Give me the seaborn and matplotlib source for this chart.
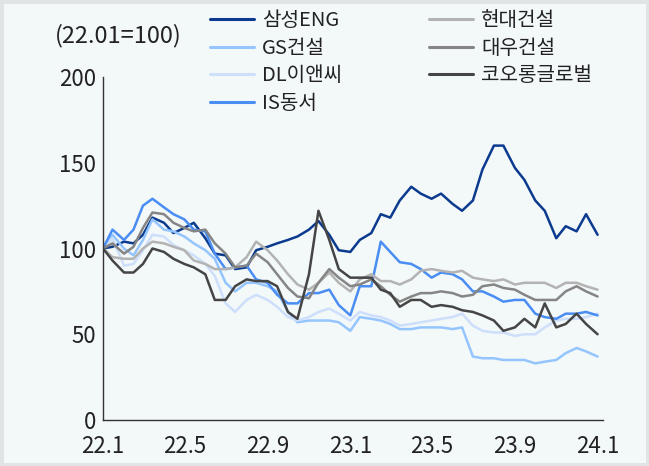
import numpy as np
import pandas as pd
import seaborn as sns
import matplotlib.pyplot as plt
from matplotlib.lines import Line2D

# 반월 간격 (1일, 15일)
dates = pd.date_range('2022-01-01', periods=49, freq='SMS')

samsung = [100, 101, 104, 103, 108, 118, 115, 109, 112, 115, 106, 97, 96, 88, 89, 99, 101, 103, 105, 107,
           111, 116, 108, 99, 98, 105, 109, 120, 118, 128, 136, 132, 129, 132, 126, 122, 128, 146, 160, 160,
           147, 140, 128, 122, 106, 113, 110, 120, 108]
gs = [100, 108, 100, 96, 105, 117, 111, 110, 107, 103, 99, 94, 80, 75, 80, 80, 78, 75, 63, 57,
      58, 58, 58, 57, 52, 60, 59, 58, 56, 53, 53, 54, 54, 54, 53, 54, 37, 36, 36, 35,
      35, 35, 33, 34, 35, 39, 42, 40, 37]
dl = [100, 106, 90, 91, 99, 108, 107, 102, 99, 96, 91, 84, 68, 63, 70, 73, 70, 66, 60, 58,
      60, 63, 65, 62, 58, 63, 61, 60, 58, 55, 56, 57, 58, 59, 60, 62, 55, 52, 51, 51,
      49, 50, 50, 54, 58, 59, 59, 60, 62]
is_dongseo = [100, 111, 105, 111, 125, 129, 124, 120, 117, 111, 110, 97, 88, 89, 90, 82, 80, 73, 68, 68,
              74, 74, 76, 67, 61, 78, 78, 104, 98, 92, 91, 88, 83, 86, 85, 82, 75, 75, 72, 69,
              70, 70, 62, 60, 59, 62, 62, 63, 61]
hyundai = [100, 95, 94, 94, 100, 104, 103, 101, 99, 93, 91, 88, 88, 89, 95, 104, 99, 93, 85, 79,
           76, 80, 86, 80, 75, 82, 85, 81, 81, 79, 82, 87, 88, 87, 86, 87, 83, 82, 81, 82,
           79, 80, 80, 80, 77, 80, 80, 78, 76]
daewoo = [100, 103, 97, 101, 112, 121, 120, 115, 112, 110, 111, 103, 97, 89, 90, 97, 92, 85, 77, 72,
          71, 80, 88, 83, 78, 79, 82, 78, 73, 69, 72, 74, 74, 75, 74, 72, 73, 78, 79, 77,
          76, 73, 70, 70, 70, 75, 78, 75, 72]
kolon = [100, 93, 86, 86, 91, 100, 98, 94, 91, 89, 85, 70, 70, 78, 82, 81, 81, 78, 63, 59,
         85, 122, 105, 88, 83, 83, 83, 76, 74, 66, 70, 70, 66, 67, 66, 64, 63, 61, 58, 52,
         54, 59, 54, 68, 54, 56, 62, 56, 50]

names = ['삼성ENG', 'GS건설', 'DL이앤씨', 'IS동서', '현대건설', '대우건설', '코오롱글로벌']
colors = ['#0b3a8e', '#94c5ff', '#cddffb', '#4a8df3', '#b3b3b3', '#858585', '#454545']
tick_dates = pd.to_datetime(['2022-01-01', '2022-05-01', '2022-09-01', '2023-01-01',
                             '2023-05-01', '2023-09-01', '2024-01-01'])
tick_labels = ['22.1', '22.5', '22.9', '23.1', '23.5', '23.9', '24.1']

df = pd.DataFrame({'date': dates, '삼성ENG': samsung, 'GS건설': gs, 'DL이앤씨': dl, 'IS동서': is_dongseo,
                   '현대건설': hyundai, '대우건설': daewoo, '코오롱글로벌': kolon})
df = df.melt(id_vars='date', var_name='name', value_name='value')

sns.set_style('white')
plt.rcParams['font.family'] = ['Noto Sans CJK KR', 'DejaVu Sans']

bg = '#f3f8f9'
fig = plt.figure(figsize=(6.49, 4.66), dpi=100)
fig.patch.set_facecolor(bg)
fig.patch.set_edgecolor('#e1e4e5')
fig.patch.set_linewidth(5)
ax = fig.add_axes([103 / 649, 1 - 420 / 466, 500 / 649, 343 / 466])
ax.set_facecolor(bg)

palette = dict(zip(names, colors))
sns.lineplot(data=df, x='date', y='value', hue='name', hue_order=names, palette=palette,
             linewidth=1.8, legend=False, ax=ax)

ax.set_ylim(0, 200)
ax.set_xlim(pd.Timestamp('2022-01-01'), pd.Timestamp('2024-01-09'))
ax.set_yticks([0, 50, 100, 150, 200])
ax.set_xticks(tick_dates)
ax.set_xticklabels(tick_labels)
ax.set_xlabel('')
ax.set_ylabel('')
ax.tick_params(axis='both', direction='in', length=4, width=1, color='#333333',
               labelsize=16, labelcolor='#222222')
ax.tick_params(axis='x', pad=11)
ax.tick_params(axis='y', pad=5)
for s in ['top', 'right']:
    ax.spines[s].set_visible(False)
for s in ['left', 'bottom']:
    ax.spines[s].set_color('#333333')
    ax.spines[s].set_linewidth(1)

fig.text(118 / 649, 1 - 36 / 466, '(22.01=100)', ha='center', va='center', fontsize=17, color='#222222')

handles = [Line2D([], [], color=c, linewidth=2.2) for c in colors]
fig.legend(handles, names, ncol=2, loc='upper left', bbox_to_anchor=(210 / 649, 1 - 10 / 466),
           frameon=False, fontsize=14.5, handlelength=2.2, handletextpad=0.4, columnspacing=4.3,
           labelspacing=0.33, borderpad=0, borderaxespad=0, labelcolor='#222222')

fig.savefig('out.png', dpi=100, facecolor=bg, edgecolor=fig.patch.get_edgecolor())
